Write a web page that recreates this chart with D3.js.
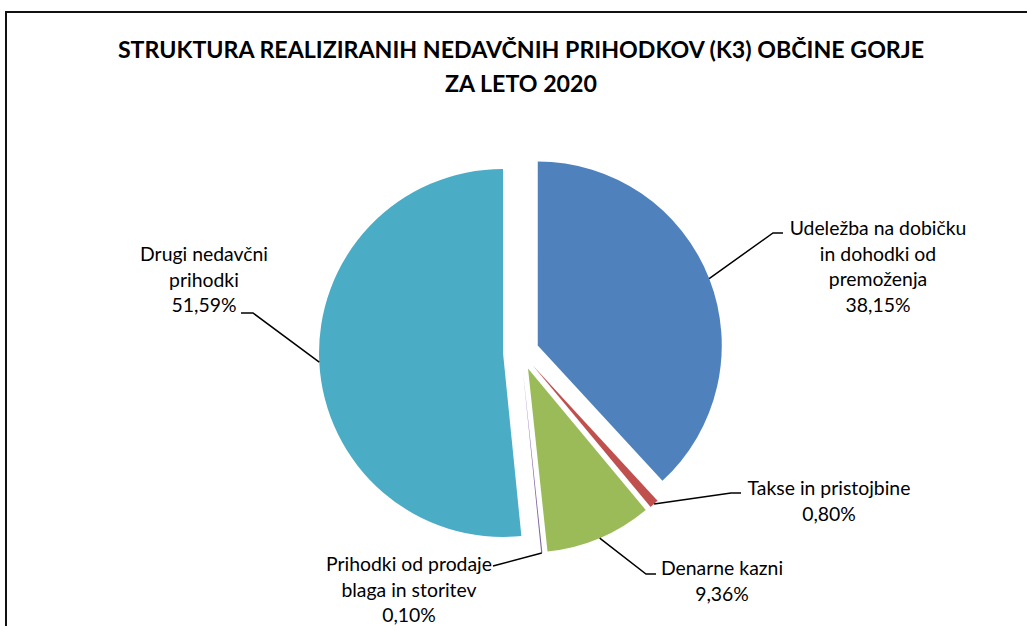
<!DOCTYPE html>
<html>
<head>
<meta charset="utf-8">
<script src="https://cdn.jsdelivr.net/npm/d3@7"></script>
<style>
  body { margin: 0; background: #fff; }
  text { font-family: Lato, "Noto Sans", sans-serif; fill: #000; }
</style>
</head>
<body>
<script>
// Data
const categories = [
  "Udeležba na dobičku in dohodki od premoženja",
  "Takse in pristojbine",
  "Denarne kazni",
  "Prihodki od prodaje blaga in storitev",
  "Drugi nedavčni prihodki"
];
const values = [38.15, 0.80, 9.36, 0.10, 51.59];
const percentLabels = ["38,15%", "0,80%", "9,36%", "0,10%", "51,59%"];
const labelLines = [
  ["Udeležba na dobičku", "in dohodki od", "premoženja"],
  ["Takse in pristojbine"],
  ["Denarne kazni"],
  ["Prihodki od prodaje", "blaga in storitev"],
  ["Drugi nedavčni", "prihodki"]
];
const titleLines = [
  "STRUKTURA REALIZIRANIH NEDAVČNIH PRIHODKOV (K3) OBČINE GORJE",
  "ZA LETO 2020"
];

// Layout
const width = 1027;
const height = 626;
const cx = 521, cy = 352;
const radius = 184;
const explode = 18;
const lineHeight = 25.6;
const colors = ["#4F81BD", "#C0504D", "#9BBB59", "#8064A2", "#4BACC6"];

// label placement: text centre x, first baseline y, elbow and end of leader line
const labelPos = [
  { x: 878, y: 235, elbow: [773, 233], end: [783, 233] },
  { x: 829, y: 495, elbow: [731, 493], end: [741, 493] },
  { x: 722, y: 575, elbow: [646, 574], end: [656, 574] },
  { x: 409, y: 571, elbow: [493, 566], end: [493, 566] },
  { x: 204, y: 261, elbow: [253, 313], end: [241, 313] }
];

const svg = d3.select("body")
  .append("svg")
  .attr("width", width)
  .attr("height", height);

svg.append("rect")
  .attr("width", width)
  .attr("height", height)
  .attr("fill", "#fff");

// chart border (runs off the right and bottom edges)
svg.append("rect")
  .attr("x", 6)
  .attr("y", 12)
  .attr("width", 1040)
  .attr("height", 640)
  .attr("fill", "none")
  .attr("stroke", "#111")
  .attr("stroke-width", 2);

// Title
svg.append("text")
  .attr("text-anchor", "middle")
  .style("font-size", "23.2px")
  .style("font-weight", "bold")
  .selectAll("tspan")
  .data(titleLines)
  .enter().append("tspan")
  .attr("x", 521)
  .attr("y", (d, i) => 58 + i * 34)
  .text(d => d);

// Pie
const pie = d3.pie().sort(null).value(d => d);
const arcs = pie(values);
const arc = d3.arc().innerRadius(0).outerRadius(radius);

function offset(d) {
  const a = (d.startAngle + d.endAngle) / 2;
  return [explode * Math.sin(a), -explode * Math.cos(a)];
}

const g = svg.append("g")
  .attr("transform", `translate(${cx},${cy})`);

g.selectAll("path")
  .data(arcs)
  .enter().append("path")
  .attr("transform", d => `translate(${offset(d)})`)
  .attr("d", arc)
  .attr("fill", (d, i) => colors[i]);

// Leader lines
g.selectAll("polyline")
  .data(arcs)
  .enter().append("polyline")
  .attr("points", (d, i) => {
    const a = (d.startAngle + d.endAngle) / 2;
    const o = offset(d);
    const p0 = [o[0] + radius * Math.sin(a), o[1] - radius * Math.cos(a)];
    const p1 = [labelPos[i].elbow[0] - cx, labelPos[i].elbow[1] - cy];
    const p2 = [labelPos[i].end[0] - cx, labelPos[i].end[1] - cy];
    return [p0, p1, p2].map(p => p.join(",")).join(" ");
  })
  .attr("fill", "none")
  .attr("stroke", "#000")
  .attr("stroke-width", 1.5);

// Labels
const labels = svg.selectAll(".label")
  .data(arcs)
  .enter().append("text")
  .attr("class", "label")
  .attr("text-anchor", "middle")
  .style("font-size", "19.4px");

labels.selectAll("tspan")
  .data((d, i) => labelLines[i].concat([percentLabels[i]]).map(t => ({ t: t, i: i })))
  .enter().append("tspan")
  .attr("x", d => labelPos[d.i].x)
  .attr("y", (d, j) => labelPos[d.i].y + j * lineHeight)
  .text(d => d.t);
</script>
</body>
</html>
